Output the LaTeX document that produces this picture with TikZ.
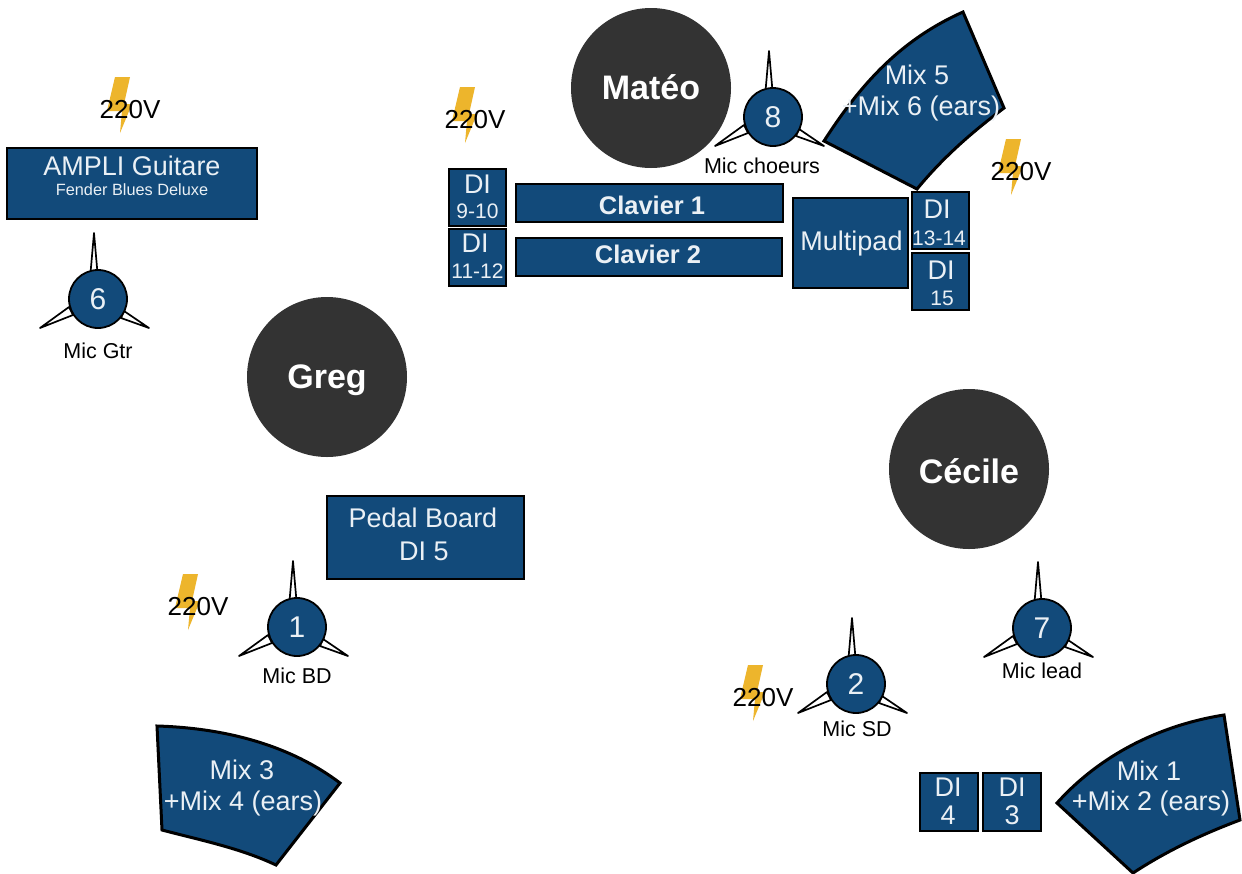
\documentclass[tikz,border=0pt]{standalone}
\usepackage{fontspec}
\setmainfont{Liberation Sans}
\definecolor{stageblue}{HTML}{124A7A}
\definecolor{person}{HTML}{333333}
\definecolor{bolt}{HTML}{EDB52C}
\definecolor{paletxt}{HTML}{EAF0F5}
\newcommand{\fs}[1]{\fontsize{#1}{#1}\selectfont}
\tikzset{
  x=1pt,y=-1pt,
  box/.style={draw=black,line width=1.6pt,fill=stageblue,inner sep=0pt},
  boxtext/.style={text=paletxt,inner sep=0pt,font=\fs{27}},
  smalltext/.style={text=paletxt,inner sep=0pt,font=\fs{21}},
  boldtext/.style={text=paletxt,inner sep=0pt,font=\fs{25.5}\bfseries},
  performer/.style={circle,fill=person,minimum size=160pt,inner sep=0pt},
  performertext/.style={text=white,inner sep=0pt,font=\fs{34}\bfseries},
  micbody/.style={circle,draw=black,line width=1.8pt,fill=stageblue,text=paletxt,minimum size=58pt,inner sep=0pt,font=\fs{30}},
  spike/.style={draw=black,line width=1.7pt,fill=white,line join=round},
  wedge/.style={draw=black,line width=3pt,fill=stageblue,line join=miter},
  wedgetext/.style={text=paletxt,inner sep=0pt,font=\fs{27}},
  mictext/.style={text=black,inner sep=0pt,font=\fs{21.5}},
  volts/.style={text=black,inner sep=0pt,font=\fs{26}},
}
\newcommand{\micstand}[4]{%
  \begin{scope}[shift={(#2,#3)}]
    \draw[spike] (-7.5,-26) -- (-4,-66) -- (-0.5,-26) -- cycle;
    \draw[spike] (-29,8) -- (-58,29) -- (-25,16) -- cycle;
    \draw[spike] (26,12) -- (51,29) -- (23,19) -- cycle;
  \end{scope}
  \node[micbody] (#1) at (#2,#3) {#4};
}
\newcommand{\power}[3]{%
  \fill[bolt] (#2,#3) -- ++(15,0) -- ++(-6,27) -- ++(8,0) -- ++(-12,29) -- ++(2,-22) -- ++(-15,0) -- cycle;
  \node[volts] (#1) at (#2+15,#3+33) {220V};
}
\begin{document}
\begin{tikzpicture}
\useasboundingbox (0,0) rectangle (1242,873);
\fill[white] (0,0) rectangle (1242,873);

% performers
\node[performer] (mateo) at (651,88) {};
\node[performertext] (mateot) at (651,87) {Matéo};
\node[performer] (greg) at (327,377) {};
\node[performertext] (gregt) at (327,380) {Greg};
\node[performer] (cecile) at (969,469) {};
\node[performertext] (cecilet) at (969,471) {Cécile};

% power
\power{pa}{115}{77}
\power{pb}{460}{87}
\power{pc}{1006}{139}
\power{pd}{183}{574}
\power{pe}{748}{665}

% boxes
\node[box,minimum width=250pt,minimum height=71pt] (ampli) at (132,183.5) {};
\node[boxtext] (amplia) at (132,166) {AMPLI Guitare};
\node[text=paletxt,inner sep=0pt,font=\fs{16.3}] (amplib) at (132,190) {Fender Blues Deluxe};

\node[box,minimum width=57pt,minimum height=57pt] (di9) at (477.5,197.5) {};
\node[boxtext] (di9a) at (477.5,184) {DI};
\node[smalltext] (di9b) at (477.5,211) {9-10};
\node[box,minimum width=57pt,minimum height=57pt] (di11) at (477.5,257.5) {};
\node[boxtext] (di11a) at (475,243) {DI};
\node[smalltext] (di11b) at (477.5,271) {11-12};

\node[box,minimum width=267pt,minimum height=38pt] (clav1) at (649.5,203) {};
\node[boldtext] (clav1t) at (652,205) {Clavier 1};
\node[box,minimum width=266pt,minimum height=38pt] (clav2) at (649,257) {};
\node[boldtext] (clav2t) at (648,254.5) {Clavier 2};
\node[box,minimum width=115pt,minimum height=90pt] (multipad) at (850.5,243) {};
\node[boxtext] (multipadt) at (851.5,244) {Multipad};

\node[box,minimum width=57pt,minimum height=57pt] (di13) at (940.5,220.5) {};
\node[boxtext] (di13a) at (937,209) {DI};
\node[smalltext] (di13b) at (939,238) {13-14};
\node[box,minimum width=57pt,minimum height=57pt] (di15) at (940.5,281.5) {};
\node[boxtext] (di15a) at (941,270) {DI};
\node[smalltext] (di15b) at (942,298) {15};

\node[box,minimum width=197pt,minimum height=83pt] (pedal) at (425.5,537.5) {};
\node[boxtext] (pedala) at (423,518) {Pedal Board};
\node[boxtext] (pedalb) at (424,551) {DI 5};

\node[box,minimum width=58pt,minimum height=58pt] (di4) at (949,802) {};
\node[boxtext] (di4a) at (948,787) {DI};
\node[boxtext] (di4b) at (948,815) {4};
\node[box,minimum width=58pt,minimum height=58pt] (di3) at (1012,802) {};
\node[boxtext] (di3a) at (1012,787) {DI};
\node[boxtext] (di3b) at (1012,815) {3};

% wedges
\draw[wedge] (824,141) .. controls (860,85) and (900,40) .. (963,12) -- (1004,108) .. controls (975,130) and (945,155) .. (917,189) -- cycle;
\node[wedgetext] (mix5a) at (917,75) {Mix 5};
\node[wedgetext] (mix5b) at (921,109) {+Mix 6 (ears)};

\draw[wedge] (1057,803) .. controls (1100,755) and (1160,725) .. (1224,715) -- (1240,820) .. controls (1200,835) and (1165,852) .. (1133,873) -- cycle;
\node[wedgetext] (mix1a) at (1149,771) {Mix 1};
\node[wedgetext] (mix1b) at (1151,804) {+Mix 2 (ears)};

\draw[wedge] (157,726) .. controls (225,728) and (290,745) .. (340,783) -- (276,865) .. controls (240,848) and (200,840) .. (162,830) -- cycle;
\node[wedgetext] (mix3a) at (242,770) {Mix 3};
\node[wedgetext] (mix3b) at (243,804) {+Mix 4 (ears)};

% microphones
\micstand{mic6}{98}{299}{6}
\node[mictext] (mic6t) at (98,351) {Mic Gtr};
\micstand{mic8}{773}{117}{8}
\node[mictext] (mic8t) at (762,166) {Mic choeurs};
\micstand{mic1}{297}{627}{1}
\node[mictext] (mic1t) at (297,676) {Mic BD};
\micstand{mic2}{856}{684}{2}
\node[mictext] (mic2t) at (857,729) {Mic SD};
\micstand{mic7}{1042}{628}{7}
\node[mictext] (mic7t) at (1042,671) {Mic lead};
\end{tikzpicture}
\end{document}
